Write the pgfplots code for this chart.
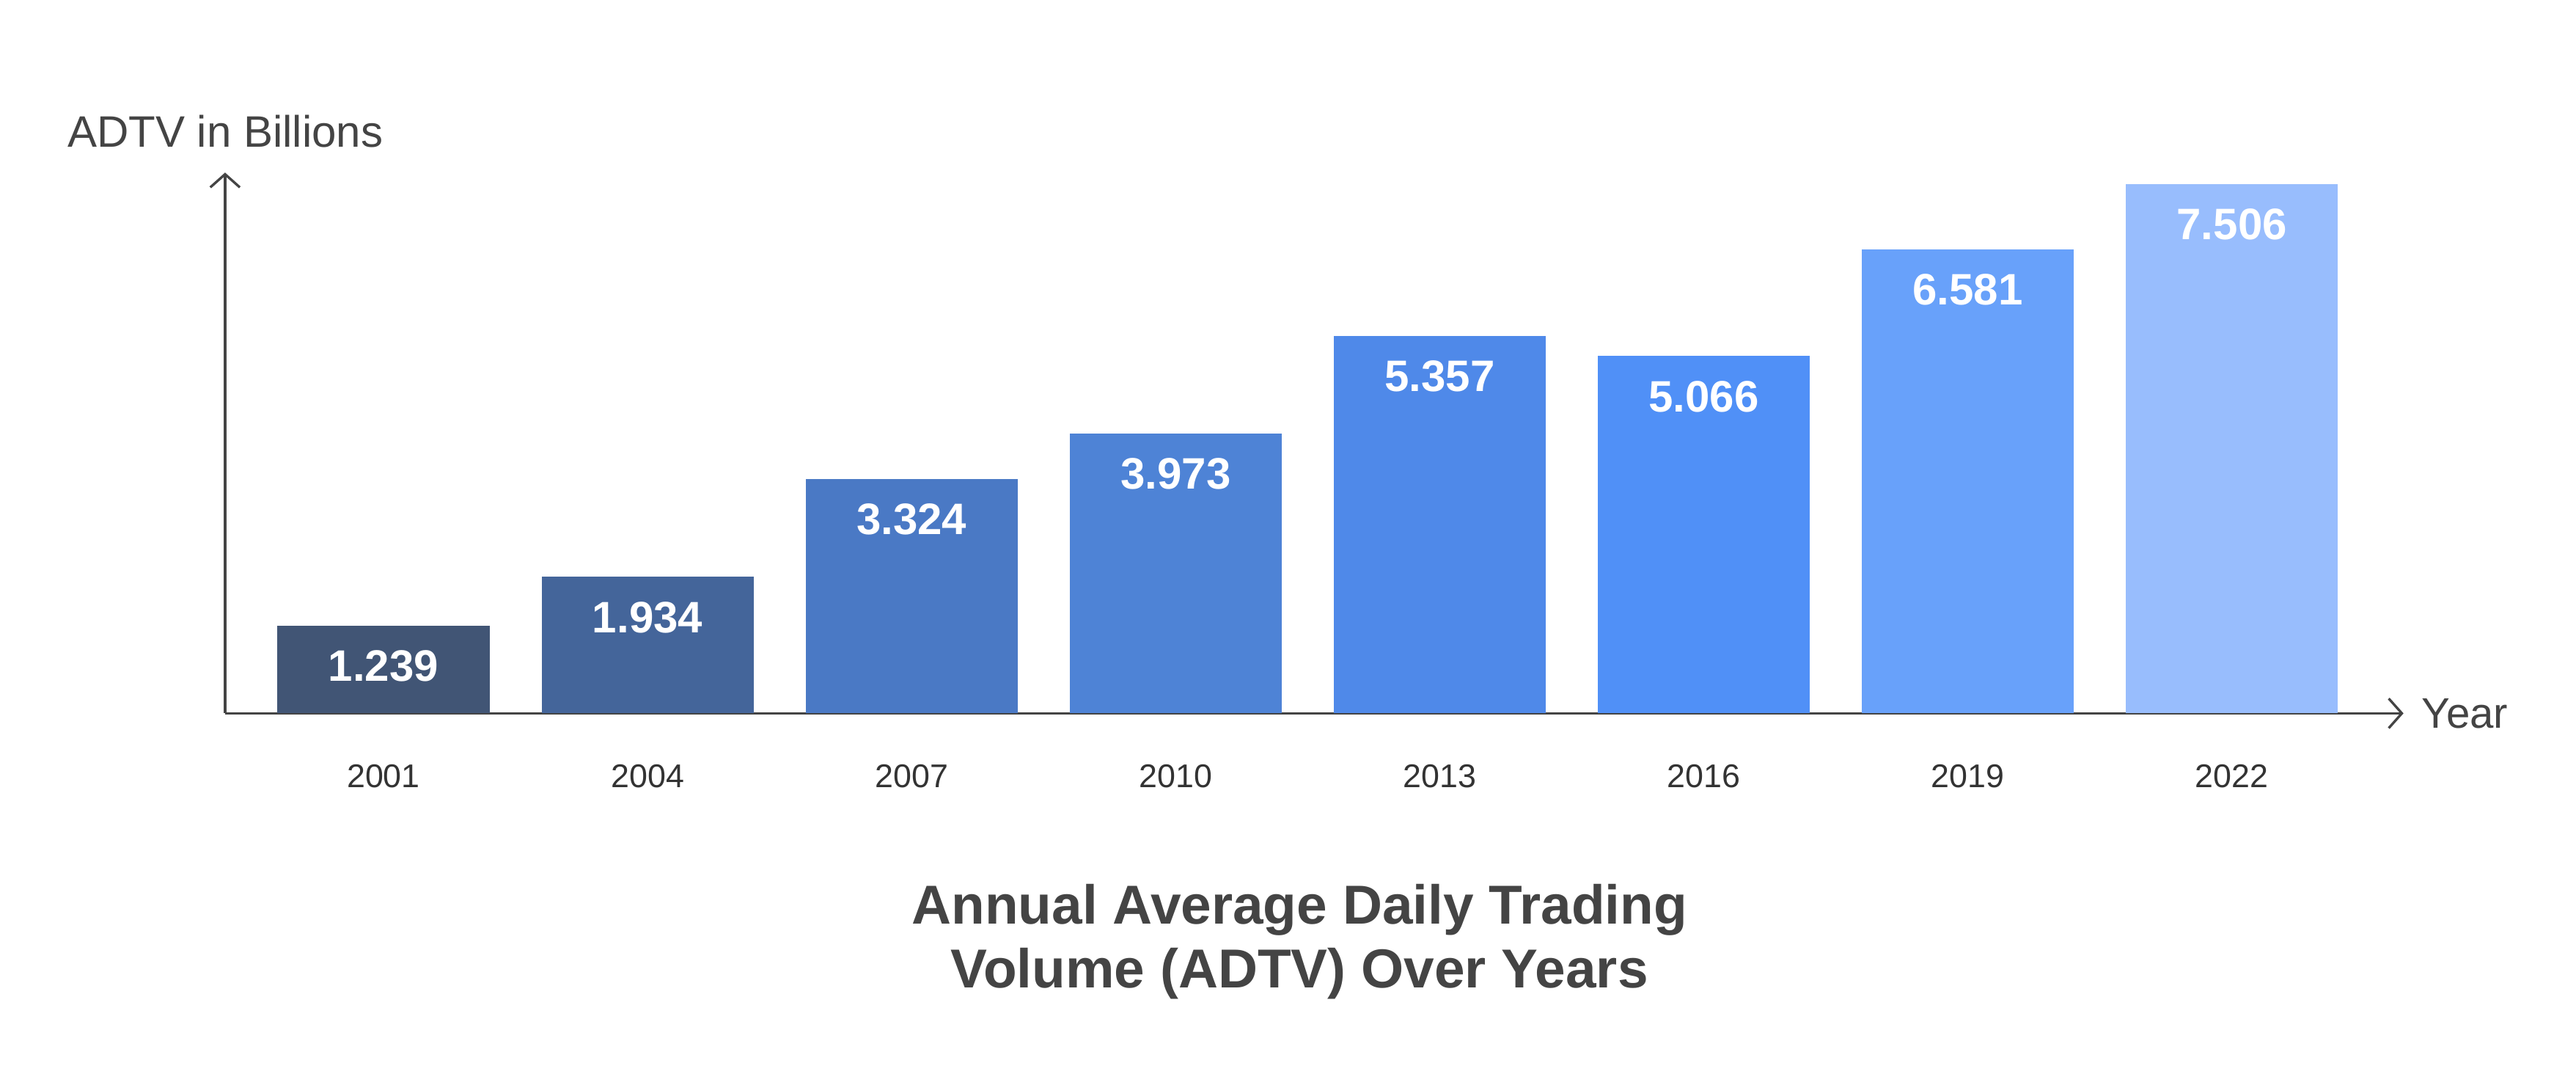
\documentclass[border=0pt]{standalone}
\usepackage{fontspec}
\setmainfont{Liberation Sans}
\usepackage{pgfplots}
\pgfplotsset{compat=1.18}
\usetikzlibrary{arrows.meta}
\definecolor{axisgray}{HTML}{444444}
\definecolor{tickgray}{HTML}{333333}
\definecolor{c1}{HTML}{415575}
\definecolor{c2}{HTML}{44659A}
\definecolor{c3}{HTML}{4A79C5}
\definecolor{c4}{HTML}{4E83D6}
\definecolor{c5}{HTML}{4F89E9}
\definecolor{c6}{HTML}{5090F7}
\definecolor{c7}{HTML}{68A1FA}
\definecolor{c8}{HTML}{98BDFD}
\begin{document}
\begin{tikzpicture}
\path[use as bounding box] (-68.5pt,-113pt) rectangle (715.5pt,217pt);
\begin{axis}[
  at={(0pt,0pt)}, anchor=south west,
  scale only axis, width=663pt, height=164.5pt,
  xmin=-0.6, xmax=7.65, ymin=0, ymax=7.67,
  axis lines=left,
  axis line style={draw=axisgray, line width=0.75pt, -{Straight Barb[length=4pt,width=9pt]}},
  ytick=\empty,
  xtick={0,1,2,3,4,5,6,7},
  xticklabels={2001,2004,2007,2010,2013,2016,2019,2022},
  major tick length=0pt,
  xticklabel style={font=\fontsize{10}{12}\selectfont, text=tickgray, yshift=-12pt},
  ybar, bar width=64.5pt, bar shift=0pt,
  nodes near coords, point meta=explicit symbolic,
  every node near coord/.append style={anchor=north, yshift=-4pt, text=white, font=\bfseries\fontsize{13.4}{16}\selectfont},
  clip=false,
]
\addplot[fill=c1, draw=none] coordinates {(0,1.239) [1.239]};
\addplot[fill=c2, draw=none] coordinates {(1,1.934) [1.934]};
\addplot[fill=c3, draw=none] coordinates {(2,3.324) [3.324]};
\addplot[fill=c4, draw=none] coordinates {(3,3.973) [3.973]};
\addplot[fill=c5, draw=none] coordinates {(4,5.357) [5.357]};
\addplot[fill=c6, draw=none] coordinates {(5,5.066) [5.066]};
\addplot[fill=c7, draw=none] coordinates {(6,6.581) [6.581]};
\addplot[fill=c8, draw=none] coordinates {(7,7.506) [7.506]};
\end{axis}
\node[anchor=west, text=axisgray, font=\fontsize{13.4}{16}\selectfont] at (-51.5pt,177pt) {ADTV in Billions};
\node[anchor=west, text=axisgray, font=\fontsize{13}{16}\selectfont] at (665pt,0pt) {Year};
\node[align=center, text=axisgray, font=\bfseries\fontsize{16.7}{19.5}\selectfont] at (327pt,-69.5pt) {Annual Average Daily Trading\\Volume (ADTV) Over Years};
\end{tikzpicture}
\end{document}
